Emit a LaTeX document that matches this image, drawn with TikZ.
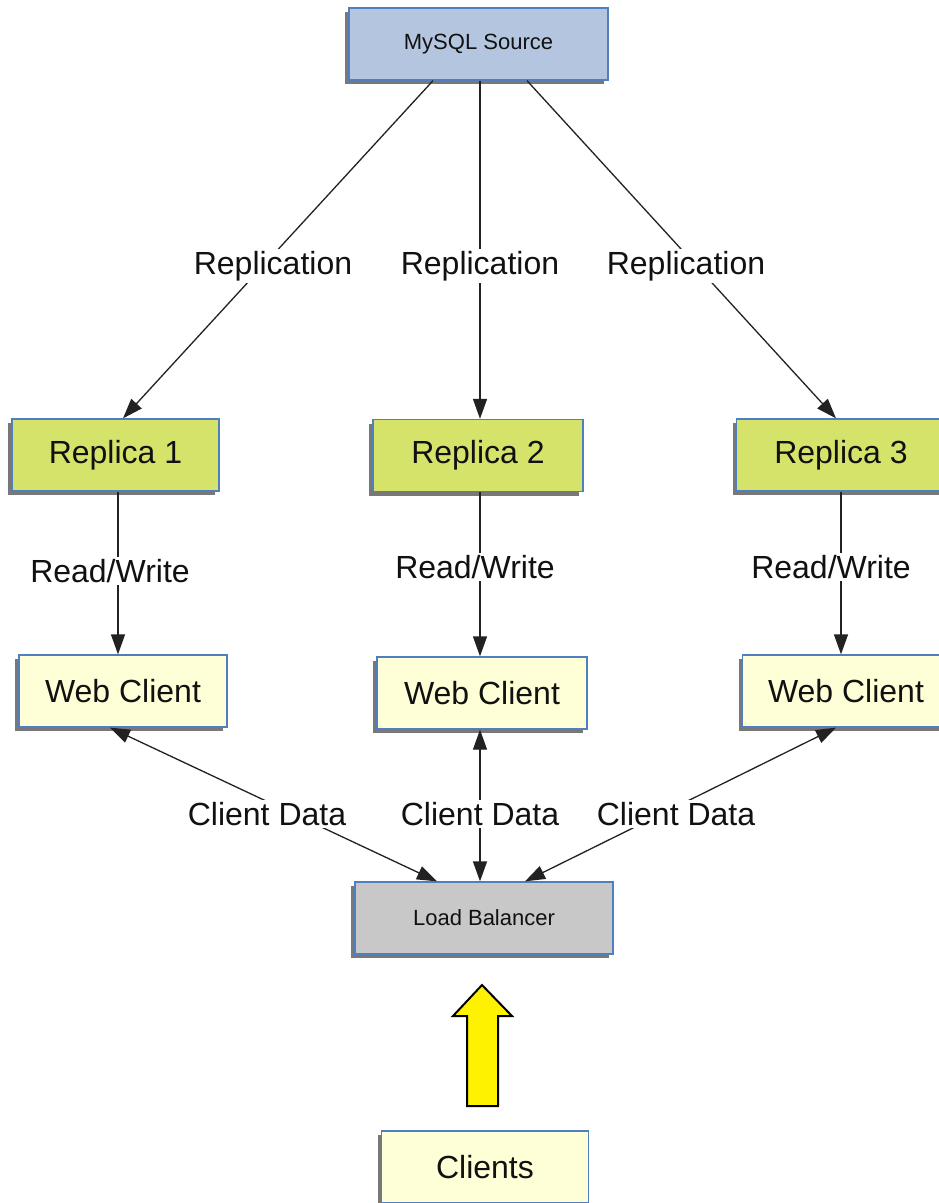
\documentclass[tikz,border=0pt]{standalone}
\usepackage{fontspec}
\setmainfont{Liberation Sans}
\usetikzlibrary{arrows.meta,shadows}
\definecolor{boxborder}{HTML}{4F7FBF}
\definecolor{textc}{HTML}{111111}
\definecolor{linec}{HTML}{222222}
\definecolor{srcfill}{HTML}{B4C6DF}
\definecolor{repfill}{HTML}{D5E36B}
\definecolor{webfill}{HTML}{FFFFD7}
\definecolor{lbfill}{HTML}{C8C8C8}
\begin{document}
\begin{tikzpicture}[x=1pt,y=-1pt,
  box/.style={draw=boxborder,line width=1.3pt,minimum height=72pt,inner sep=0pt,text=textc,
    font=\fontsize{32}{36}\selectfont,
    drop shadow={shadow xshift=-4pt,shadow yshift=-4pt,fill=black!70,opacity=0.75}},
  smallbox/.style={box,font=\fontsize{22}{26}\selectfont},
  conn/.style={draw=linec,line width=1.3pt,-{Triangle[length=20pt,width=14pt]}},
  both/.style={draw=linec,line width=1.3pt,{Triangle[length=20pt,width=14pt]}-{Triangle[length=20pt,width=14pt]}},
  lbl/.style={fill=white,inner sep=2pt,font=\fontsize{32}{36}\selectfont,text=textc}]
\useasboundingbox (0,0) rectangle (939,1203);
\fill[white] (0,0) rectangle (939,1203);

% boxes
\node[smallbox,fill=srcfill,minimum width=259pt] (src) at (478.5,44) {MySQL Source};
\node[box,fill=repfill,minimum width=207pt] (r1) at (115.5,455) {Replica 1};
\node[box,fill=repfill,minimum width=210pt] (r2) at (478,455.5) {Replica 2};
\node[box,fill=repfill,minimum width=209pt] (r3) at (841,455) {Replica 3};
\node[box,fill=webfill,minimum width=208pt] (w1) at (123,691) {Web Client};
\node[box,fill=webfill,minimum width=210pt] (w2) at (482,693) {Web Client};
\node[box,fill=webfill,minimum width=207pt] (w3) at (846,691) {Web Client};
\node[smallbox,fill=lbfill,minimum width=258pt] (lb) at (484,918) {Load Balancer};
\node[box,fill=webfill,minimum width=207pt] (cl) at (485,1167) {Clients};

% replication
\draw[conn] ([xshift=-45.5pt]src.south) -- ([xshift=7.5pt]r1.north);
\draw[conn] ([xshift=1.5pt]src.south) -- ([xshift=2pt]r2.north);
\draw[conn] ([xshift=48.5pt]src.south) -- ([xshift=-5pt]r3.north);
% read/write
\draw[conn] ([xshift=2.5pt]r1.south) -- ([xshift=-5pt]w1.north);
\draw[conn] ([xshift=2pt]r2.south) -- ([xshift=-2pt]w2.north);
\draw[conn] (r3.south) -- ([xshift=-5pt]w3.north);
% client data
\draw[both] ([xshift=-47pt]lb.north) -- ([xshift=-13pt]w1.south);
\draw[both] ([xshift=-4pt]lb.north) -- ([xshift=-2pt]w2.south);
\draw[both] ([xshift=41pt]lb.north) -- ([xshift=-10pt]w3.south);

% labels
\node[lbl] (l1) at (273,266) {Replication};
\node[lbl] (l2) at (480,266) {Replication};
\node[lbl] (l3) at (686,266) {Replication};
\node[lbl] (rw1) at (110,571) {Read/Write};
\node[lbl] (rw2) at (475,567) {Read/Write};
\node[lbl] (rw3) at (831,567) {Read/Write};
\node[lbl] (cd1) at (267,814) {Client Data};
\node[lbl] (cd2) at (480,814) {Client Data};
\node[lbl] (cd3) at (676,814) {Client Data};

% big yellow arrow
\draw[fill=yellow,line width=2pt,line join=miter]
  (482,985) -- (512,1016) -- (498,1016) -- (498,1106) -- (467,1106) -- (467,1016) -- (453,1016) -- cycle;
\end{tikzpicture}
\end{document}
